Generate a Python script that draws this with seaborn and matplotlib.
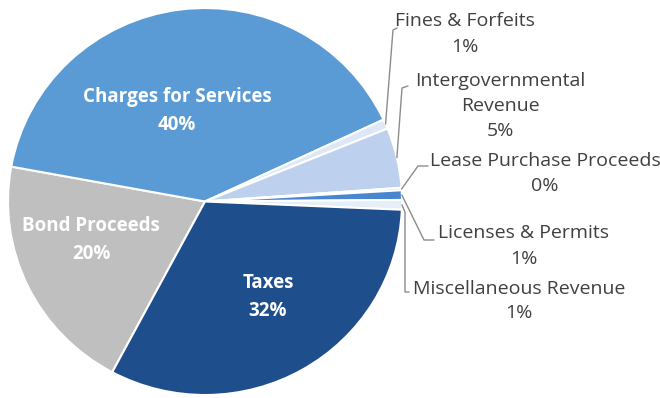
import numpy as np
import matplotlib
matplotlib.use("Agg")
import matplotlib.pyplot as plt
from matplotlib.lines import Line2D
from matplotlib.transforms import IdentityTransform
import seaborn as sns

# Revenue sources (alphabetical, drawn clockwise)
categories = [
    "Bond Proceeds",
    "Charges for Services",
    "Fines & Forfeits",
    "Intergovernmental\nRevenue",
    "Lease Purchase Proceeds",
    "Licenses & Permits",
    "Miscellaneous Revenue",
    "Taxes",
]
shares = [20.0, 40.0, 0.8, 5.0, 0.2, 0.8, 0.8, 32.0]
colors = ["#bfbfbf", "#5b9bd5", "#dde7f5", "#bdd0ee",
          "#9cc0ea", "#4a86d0", "#e6eef8", "#1f4e8c"]

sns.set_theme(style="white")
plt.rcParams["font.family"] = ["Open Sans", "DejaVu Sans"]

W, H = 660, 398
fig = plt.figure(figsize=(W / 100, H / 100), dpi=100)
fig.patch.set_facecolor("white")

# pie ellipse occupies x 8..402, y 8..395 (pixels from top-left)
ax = fig.add_axes([8 / W, (H - 395) / H, 394 / W, 387 / H])
wedges, _ = ax.pie(
    shares, colors=colors, startangle=241.9, counterclock=False,
    wedgeprops=dict(edgecolor="white", linewidth=1.5),
)
ax.set_aspect("auto")
ax.set_xlim(-1, 1)
ax.set_ylim(-1, 1)
ax.axis("off")

total = sum(shares)
pct = [f"{round(v / total * 100):.0f}%" for v in shares]


def px(x, y):
    """figure pixel from top-left coords"""
    return x, H - y


def edge_point(i, frac=0.5):
    w = wedges[i]
    ang = np.deg2rad(w.theta1 + (w.theta2 - w.theta1) * frac)
    return ax.transData.transform((np.cos(ang), np.sin(ang)))


# labels inside the large slices
inner = {0: (91, 240), 1: (177, 111), 7: (268, 297)}
for i, (x, y) in inner.items():
    fig.text(x / W, (H - y) / H, f"{categories[i]}\n{pct[i]}",
             ha="center", va="center", color="white", fontsize=13.5,
             fontweight="bold", linespacing=1.5)

# labels outside with leader lines
outer = {
    2: ((465, 34), [(393, 30), (397, 28)]),
    3: ((500, 106), [(402, 88), (408, 86)]),
    4: ((545, 173), [(418, 166), (428, 166)]),
    5: ((524, 246), [(424, 240), (434, 240)]),
    6: ((519, 301), [(405, 212), (405, 292), (409, 292)]),
}
for i, ((x, y), path) in outer.items():
    fig.text(x / W, (H - y) / H, f"{categories[i]}\n{pct[i]}",
             ha="center", va="center", color="#404040", fontsize=14,
             linespacing=1.5)
    start = edge_point(i)
    pts = [tuple(start)] + [px(a, b) for a, b in path]
    xs, ys = zip(*pts)
    fig.lines.append(Line2D(xs, ys, color="#8c8c8c", linewidth=1.0,
                            transform=IdentityTransform(), figure=fig))

fig.savefig("out.png", dpi=100, facecolor="white")
